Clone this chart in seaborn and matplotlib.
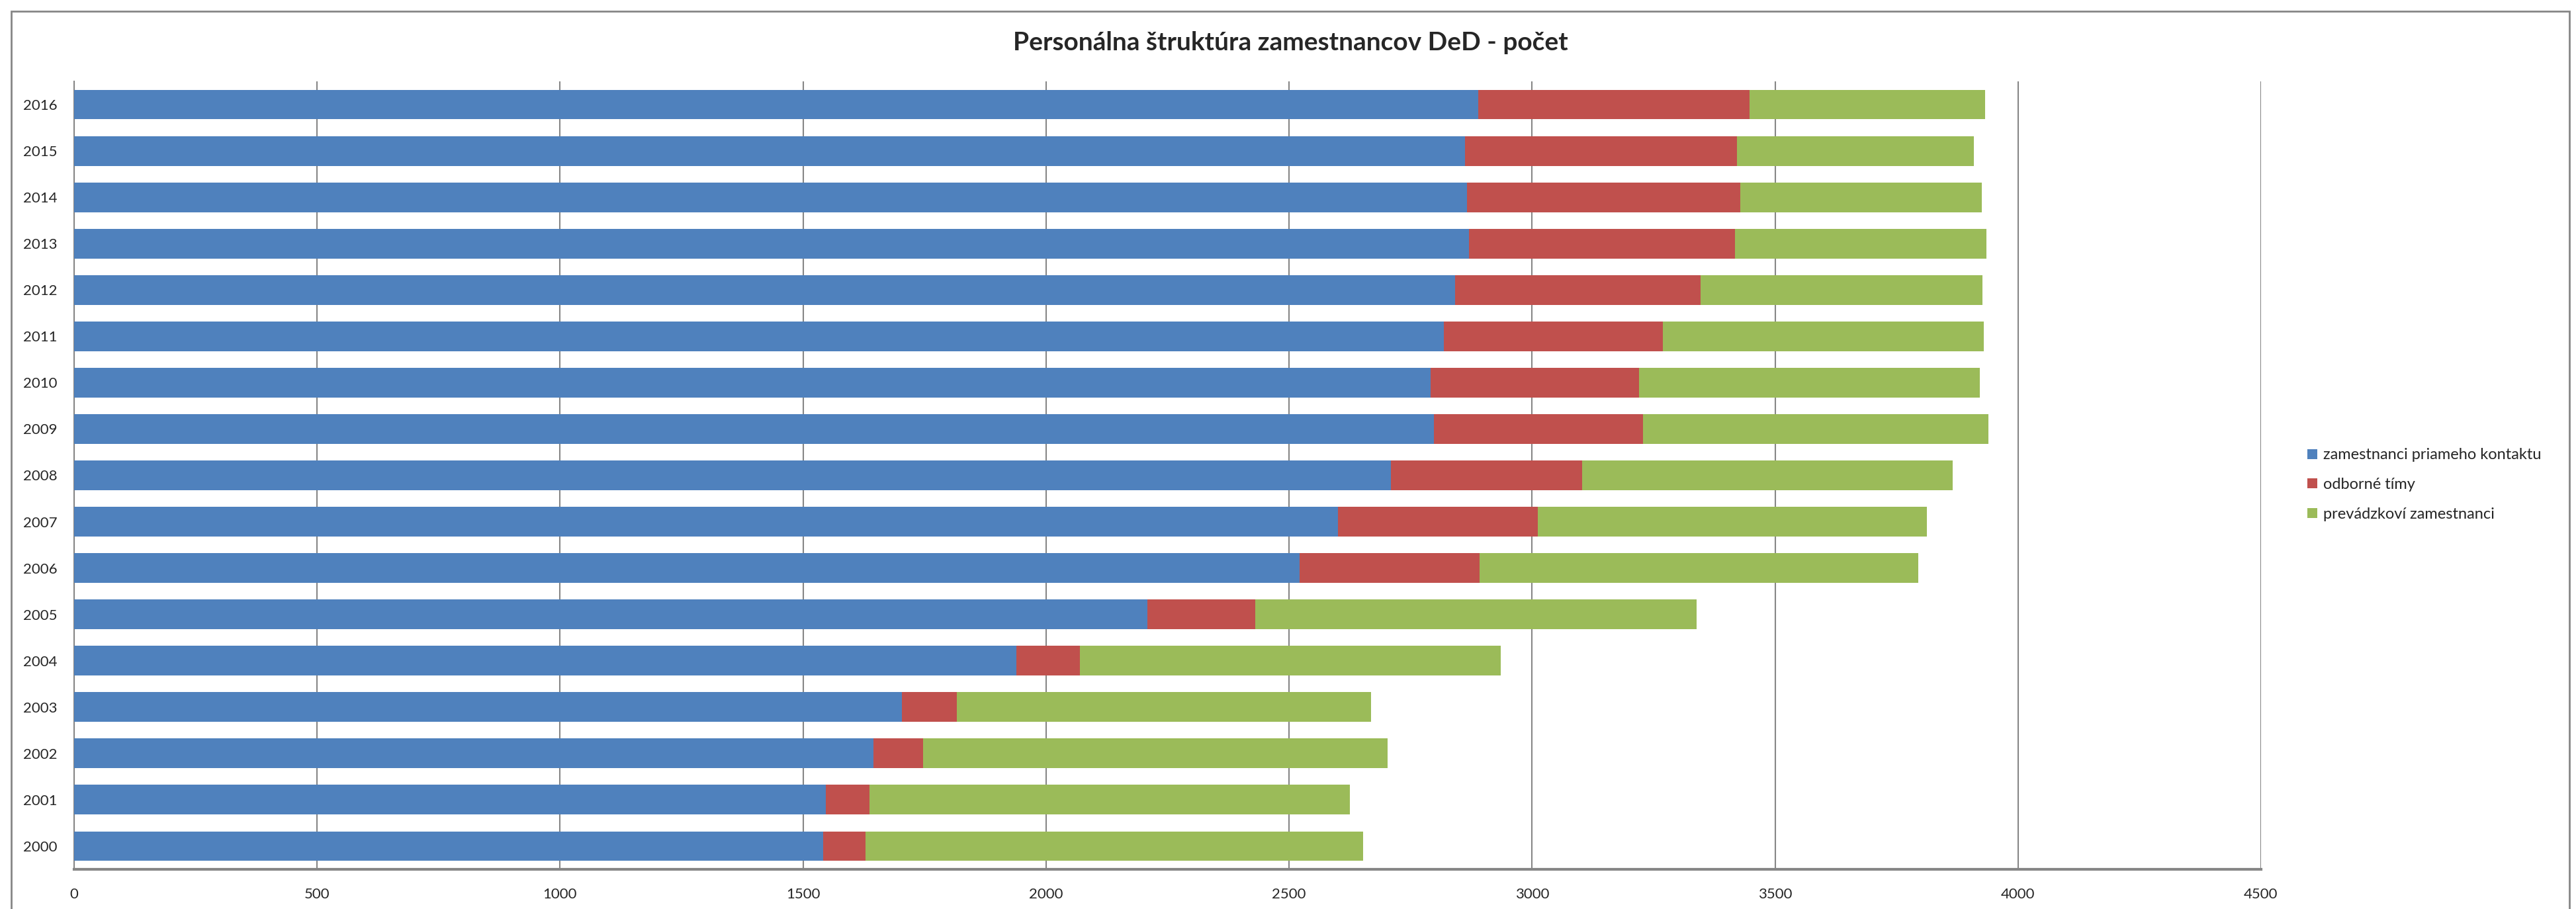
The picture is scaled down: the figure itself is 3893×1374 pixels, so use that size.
import matplotlib
matplotlib.use("Agg")
import matplotlib.pyplot as plt
import matplotlib.patches as mpatches
import numpy as np
import pandas as pd
import seaborn as sns

years = ["2000", "2001", "2002", "2003", "2004", "2005", "2006", "2007", "2008",
         "2009", "2010", "2011", "2012", "2013", "2014", "2015", "2016"]
priamy_kontakt = [1541, 1547, 1645, 1703, 1939, 2209, 2522, 2600, 2709,
                  2798, 2791, 2819, 2842, 2870, 2866, 2862, 2889]
odborne_timy = [87, 90, 102, 113, 130, 222, 370, 412, 394,
                430, 429, 450, 505, 547, 562, 559, 559]
prevadzkovi = [1024, 988, 956, 853, 867, 908, 903, 801, 762,
               711, 701, 660, 580, 518, 498, 488, 484]
series_names = ["zamestnanci priameho kontaktu", "odborné tímy", "prevádzkoví zamestnanci"]
colors = ["#4F81BD", "#C0504D", "#9BBB59"]
x_ticks = [0, 500, 1000, 1500, 2000, 2500, 3000, 3500, 4000, 4500]
title = "Personálna štruktúra zamestnancov DeD - počet"

sns.set_theme(style="white")
plt.rcParams["font.family"] = ["Lato", "DejaVu Sans"]

df = pd.DataFrame({
    "year": years,
    "s1": priamy_kontakt,
    "s2": odborne_timy,
    "s3": prevadzkovi,
})
df["c1"] = df["s1"]
df["c2"] = df["s1"] + df["s2"]
df["c3"] = df["c2"] + df["s3"]
order = years[::-1]

W, H, DPI = 3893, 1374, 100
fig = plt.figure(figsize=(W / DPI, H / DPI), dpi=DPI)
ax = fig.add_axes([112 / W, 1 - 1314 / H, (3417 - 112) / W, (1314 - 123) / H])

for col, color in zip(["c3", "c2", "c1"], colors[::-1]):
    sns.barplot(data=df, x=col, y="year", order=order, orient="h",
                color=color, saturation=1, width=0.64, ax=ax,
                edgecolor="none", linewidth=0, zorder=3)

ax.set_xlim(0, 4500)
ax.set_xticks(x_ticks)
ax.set_xticklabels([str(t) for t in x_ticks], fontsize=16)
ax.set_xlabel("")
ax.set_ylabel("")
ax.tick_params(axis="y", labelsize=16, length=0, pad=18)
ax.tick_params(axis="x", length=0, pad=20)
ax.xaxis.grid(True, color="#868686", linewidth=1.5)
ax.set_axisbelow(True)
for s in ["top", "right"]:
    ax.spines[s].set_visible(False)
ax.spines["left"].set_color("#868686")
ax.spines["left"].set_linewidth(1.5)
ax.spines["bottom"].set_color("#868686")
ax.spines["bottom"].set_linewidth(3)

fig.text(1950 / W, 1 - 65 / H, title, ha="center", va="center",
         fontsize=28, fontweight="bold")

handles = [mpatches.Patch(facecolor=c, edgecolor="none", label=n)
           for n, c in zip(series_names, colors)]
fig.legend(handles=handles, loc="upper left",
           bbox_to_anchor=(3478 / W, 1 - 668 / H), frameon=False,
           fontsize=17, handlelength=0.6, handleheight=0.6,
           handletextpad=0.4, labelspacing=1.0, borderaxespad=0)

border = mpatches.Rectangle((17 / W, -0.05), (3883 - 17) / W, 1.05 - 17 / H,
                            transform=fig.transFigure, fill=False,
                            edgecolor="#868686", linewidth=2, clip_on=False)
fig.add_artist(border)

fig.savefig("out.png", dpi=DPI, facecolor="white")
